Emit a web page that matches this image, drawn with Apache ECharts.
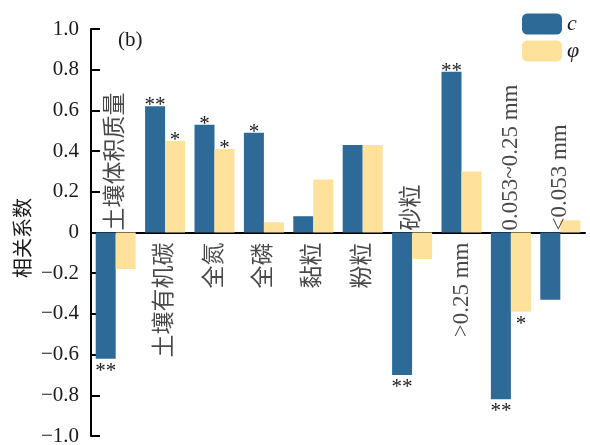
<!DOCTYPE html>
<html>
<head>
<meta charset="utf-8">
<script src="https://cdn.jsdelivr.net/npm/echarts@6/dist/echarts.min.js"></script>
<style>
html,body{margin:0;padding:0;background:#fff;}
#chart{width:590px;height:445px;}
</style>
</head>
<body>
<div id="chart"></div>
<script>
const categories = ['土壤体积质量','土壤有机碳','全氮','全磷','黏粒','粉粒','砂粒','>0.25 mm','0.053~0.25 mm','<0.053 mm'];
const cValues   = [-0.62, 0.62, 0.53, 0.49, 0.08, 0.43, -0.70, 0.79, -0.82, -0.33];
const phiValues = [-0.18, 0.45, 0.41, 0.05, 0.26, 0.43, -0.13, 0.30, -0.39, 0.06];
const cSig   = ['**','**','*','*','','','**','**','**',''];
const phiSig = ['','*','*','','','','','','*',''];

const FONT = '"Liberation Serif","Noto Sans CJK SC",serif';
const BLUE = '#2D6A97';
const YELLOW = '#FEE29B';
const TXT = '#1a1a1a';

function barData(vals, sig){
  return vals.map((v,i)=>({
    value: v,
    label: {show: !!sig[i], formatter: sig[i],
      position: v < 0 ? 'bottom' : 'top', distance: v < 0 ? 2 : -10}
  }));
}
function fmtTick(v){
  if (Math.abs(v) < 1e-9) return '0';
  return v.toFixed(1).replace('-', '\u2212');
}
// category names: above the zero line where the c bar is negative, below it otherwise
const aboveNames = categories.map((name, i) => cValues[i] < 0 ? [name, 0] : null).filter(Boolean);
const belowNames = categories.map((name, i) => cValues[i] < 0 ? null : [name, 0]).filter(Boolean);

const nameLabel = {show: true, rotate: 90, verticalAlign: 'middle',
  fontFamily: FONT, fontSize: 23, color: TXT, formatter: p => p.data[0]};

const chart = echarts.init(document.getElementById('chart'));
chart.setOption({
  animation: false,
  grid: {left: 91, width: 494, top: 29, height: 407, containLabel: false, outerBoundsMode: 'none'},
  legend: {
    orient: 'vertical', left: 517, top: 8, itemWidth: 40, itemHeight: 21, itemGap: 5,
    textStyle: {fontFamily: FONT, fontSize: 22, fontStyle: 'italic', color: TXT},
    data: ['c','φ']
  },
  xAxis: {
    type: 'category', data: categories,
    axisLine: {onZero: true, lineStyle: {color: '#000', width: 2}},
    axisTick: {show: false},
    axisLabel: {show: false}
  },
  yAxis: {
    type: 'value', min: -1, max: 1, interval: 0.2,
    axisLine: {show: true, lineStyle: {color: '#000', width: 2}},
    axisTick: {show: true, inside: true, length: 9, lineStyle: {color: '#000', width: 2}},
    splitLine: {show: false},
    axisLabel: {fontFamily: FONT, fontSize: 21, color: TXT, margin: 12, formatter: fmtTick}
  },
  graphic: [
    {type: 'text', left: 118, top: 30, style: {text: '(b)', font: '21px ' + FONT, fill: TXT}},
    {type: 'text', x: 25, y: 238, rotation: Math.PI/2,
     style: {text: '相关系数', font: '20px ' + FONT, fill: TXT, align: 'center', verticalAlign: 'middle'}}
  ],
  series: [{
    name: 'c', type: 'bar', barWidth: 20, barGap: '0%',
    itemStyle: {color: BLUE},
    label: {fontFamily: FONT, fontSize: 21, color: TXT},
    data: barData(cValues, cSig)
  },{
    name: 'φ', type: 'bar', barWidth: 20, barGap: '0%',
    itemStyle: {color: YELLOW},
    label: {fontFamily: FONT, fontSize: 21, color: TXT},
    data: barData(phiValues, phiSig)
  },{
    name: 'namesAbove', type: 'scatter', symbolSize: 0, silent: true, z: 5,
    data: aboveNames,
    label: Object.assign({position: 'top', distance: 2, align: 'left'}, nameLabel)
  },{
    name: 'namesBelow', type: 'scatter', symbolSize: 0, silent: true, z: 5,
    data: belowNames,
    label: Object.assign({position: 'bottom', distance: 10, align: 'right'}, nameLabel)
  }]
});
</script>
</body>
</html>
